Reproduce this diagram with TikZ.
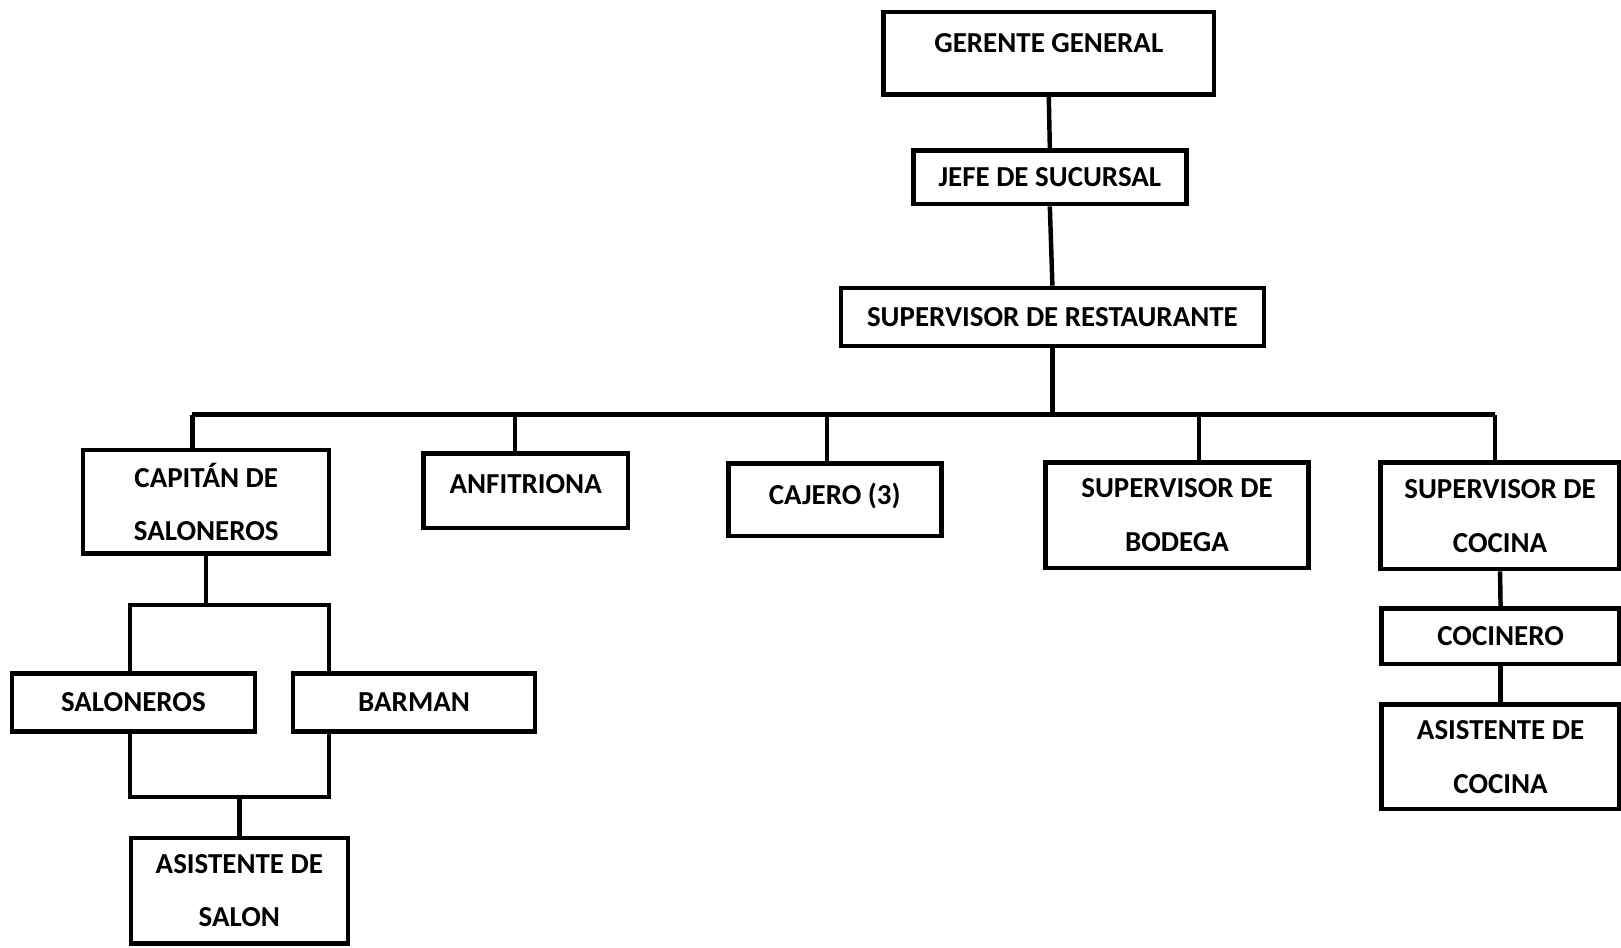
\documentclass[tikz,border=0pt]{standalone}
\usepackage{fontspec}
\setmainfont{Carlito}
\tikzset{
  box/.style={draw, line width=4.3pt, inner sep=0pt, align=center,
    font=\fontsize{28}{52}\selectfont\bfseries},
  link/.style={line width=4.3pt},
}
\begin{document}
\begin{tikzpicture}[x=1pt,y=-1pt]
\useasboundingbox (0,0) rectangle (1568,917);
% top of the chart
\node[box, minimum width=320pt, minimum height=80pt, text depth=19pt] (gg) at (1014.5,51.5) {GERENTE GENERAL};
\node[box, minimum width=264pt, minimum height=52pt] (jefe) at (1015.5,171.5) {JEFE DE SUCURSAL};
\node[box, minimum width=409pt, minimum height=56pt] (sup) at (1018,306.5) {SUPERVISOR DE RESTAURANTE};
\draw[link] (gg.south) -- (jefe.north);
\draw[link] (jefe.south) -- (sup.north);
% second level
\node[box, minimum width=238pt, minimum height=100pt] (cap) at (199.5,485.5) {CAPITÁN DE\\SALONEROS};
\node[box, minimum width=198pt, minimum height=72pt, text depth=13pt] (anf) at (508.5,474.5) {ANFITRIONA};
\node[box, minimum width=206pt, minimum height=70pt, text depth=11pt] (caj) at (807.5,483.5) {CAJERO (3)};
\node[box, minimum width=254pt, minimum height=102pt] (bod) at (1138.5,498.5) {SUPERVISOR DE\\BODEGA};
\node[box, minimum width=231pt, minimum height=103pt] (coc) at (1451,499) {SUPERVISOR DE\\COCINA};
\coordinate (busL) at (186,401);
\coordinate (busR) at (1446,401);
\coordinate (dAnf) at (498,401);
\coordinate (dCaj) at (800,401);
\coordinate (dBod) at (1160,401);
\draw[link] (busL) -- (busR);
\draw[link] (sup.south) -- (sup.south |- busL);
\draw[link] (busL) -- (cap.north -| busL);
\draw[link] (dAnf) -- (anf.north -| dAnf);
\draw[link] (dCaj) -- (caj.north -| dCaj);
\draw[link] (dBod) -- (bod.north -| dBod);
\draw[link] (busR) -- (coc.north -| busR);
% kitchen
\node[box, minimum width=230pt, minimum height=54pt] (cocn) at (1451.5,615.5) {COCINERO};
\node[box, minimum width=230pt, minimum height=101pt] (acoc) at (1451.5,732) {ASISTENTE DE\\COCINA};
\draw[link] (coc.south) -- (cocn.north);
\draw[link] (cocn.south) -- (acoc.north);
% dining room
\node[box, minimum width=235pt, minimum height=56pt] (sal) at (129,679.5) {SALONEROS};
\node[box, minimum width=234pt, minimum height=56pt] (bar) at (400.5,679.5) {BARMAN};
\node[box, minimum width=210pt, minimum height=102pt] (asal) at (231.5,861.5) {ASISTENTE DE\\SALON};
\coordinate (brTL) at (126,585);
\coordinate (brTR) at (318,585);
\coordinate (brBL) at (126,771);
\coordinate (brBR) at (318,771);
\draw[link] (cap.south) -- (cap.south |- brTL);
\draw[link] (sal.north -| brTL) -- (brTL) -- (brTR) -- (bar.north -| brTR);
\draw[link] (sal.south -| brBL) -- (brBL) -- (brBR) -- (bar.south -| brBR);
\draw[link] (asal.north) -- (asal.north |- brBL);
\end{tikzpicture}
\end{document}
